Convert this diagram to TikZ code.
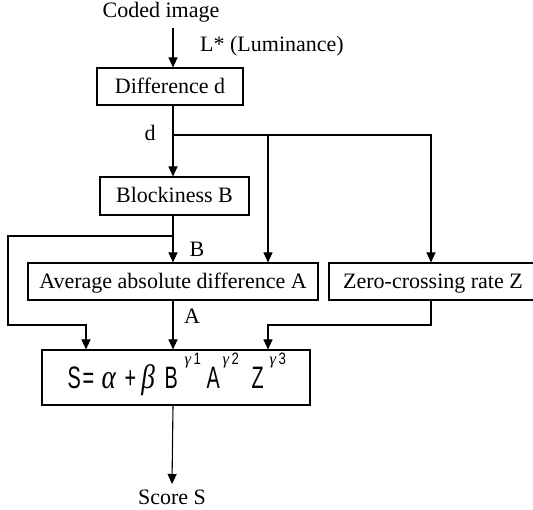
\documentclass[tikz,border=0pt]{standalone}
\usepackage{graphicx}
\usepackage{fontspec}
\setmainfont{Liberation Serif}
\newfontfamily\gothic{Liberation Sans}
\usetikzlibrary{arrows.meta}
\newcommand\gl[2]{\makebox[#1pt][l]{#2}}
\newcommand\sg[1]{\scalebox{0.64}[1]{\gothic\fontsize{31}{31}\selectfont #1}}
\newcommand\gk[1]{\scalebox{0.8}[1]{\fontsize{34}{34}\selectfont\itshape #1}}
\newcommand\gsup[1]{\raisebox{24pt}{\fontsize{16.5}{16.5}\selectfont\itshape γ\upshape\hspace{2.5pt}\scalebox{0.8}[1]{\gothic #1}}}
\begin{document}
\begin{tikzpicture}[x=1pt,y=-1pt,
  box/.style={draw,line width=1.1pt,inner sep=0pt,text height=16pt,text depth=2pt,font=\fontsize{22}{26}\selectfont},
  lbl/.style={inner sep=0pt,font=\fontsize{22}{26}\selectfont},
  conn/.style={line width=1.1pt},
  arr/.style={conn,-{Triangle[length=10pt,width=9pt]}}]
\useasboundingbox (0,0) rectangle (533,510);
\fill[white] (0,0) rectangle (533,510);
% guide x positions
\coordinate (spine) at (173,0);
\coordinate (ax) at (268,0);
\coordinate (zx) at (431,0);
\coordinate (bx) at (86,0);
% texts
\node[lbl,anchor=base] (ci) at (161,18) {Coded image};
\node[lbl,anchor=base west] (lum) at (200,52) {L* (Luminance)};
\node[lbl,anchor=base] (dl) at (150,141) {d};
\node[lbl,anchor=base] (bl) at (197,257) {B};
\node[lbl,anchor=base] (al) at (192,324) {A};
\node[lbl,anchor=base] (score) at (172,504) {Score S};
% boxes
\node[box,minimum width=146pt,minimum height=37pt] (diff) at (170,86.5) {Difference d};
\node[box,minimum width=149pt,minimum height=38pt] (block) at (174.5,196) {Blockiness B};
\node[box,minimum width=290pt,minimum height=37pt] (avg) at (173,281.5) {Average absolute difference A};
\node[box,minimum width=208pt,minimum height=37pt] (zero) at (433,281.5) {Zero-crossing rate Z};
\node[draw,line width=1.1pt,inner sep=0pt,minimum width=268pt,minimum height=55pt,text height=28pt,text depth=5pt] (formula) at (176,377.5)
 {\hspace*{7pt}\gl{15}{\sg{S}}\gl{19}{\sg{=}}\gl{23}{\gk{α}}\gl{17}{\sg{+}}\gl{23}{\gk{β}}\gl{20}{\sg{B}}\gl{22}{\gsup{1}}\gl{16}{\sg{A}}\gl{29}{\gsup{2}}\gl{18}{\sg{Z}}\gl{22}{\gsup{3}}};
% connector coordinates
\coordinate (cistart) at (173,28);
\coordinate (dsplit) at (173,135);
\coordinate (bsplit) at (173,236);
\coordinate (bl1) at (8,236);
\coordinate (bl2) at (8,325);
\coordinate (zmid) at (268,325);
\coordinate (scoreend) at (172,484);
% connectors
\draw[arr] (cistart) -- (diff.north -| spine);
\draw[arr] (diff.south -| spine) -- (block.north -| spine);
\draw[arr] (dsplit) -| (avg.north -| ax);
\draw[arr] (dsplit) -| (zero.north -| zx);
\draw[arr] (block.south -| spine) -- (avg.north -| spine);
\draw[arr] (bsplit) -- (bl1) -- (bl2) -| (formula.north -| bx);
\draw[arr] (avg.south -| spine) -- (formula.north -| spine);
\draw[arr] (zero.south -| zx) |- (zmid) -- (formula.north -| zmid);
\draw[arr] (formula.south -| spine) -- (scoreend);
\end{tikzpicture}
\end{document}
